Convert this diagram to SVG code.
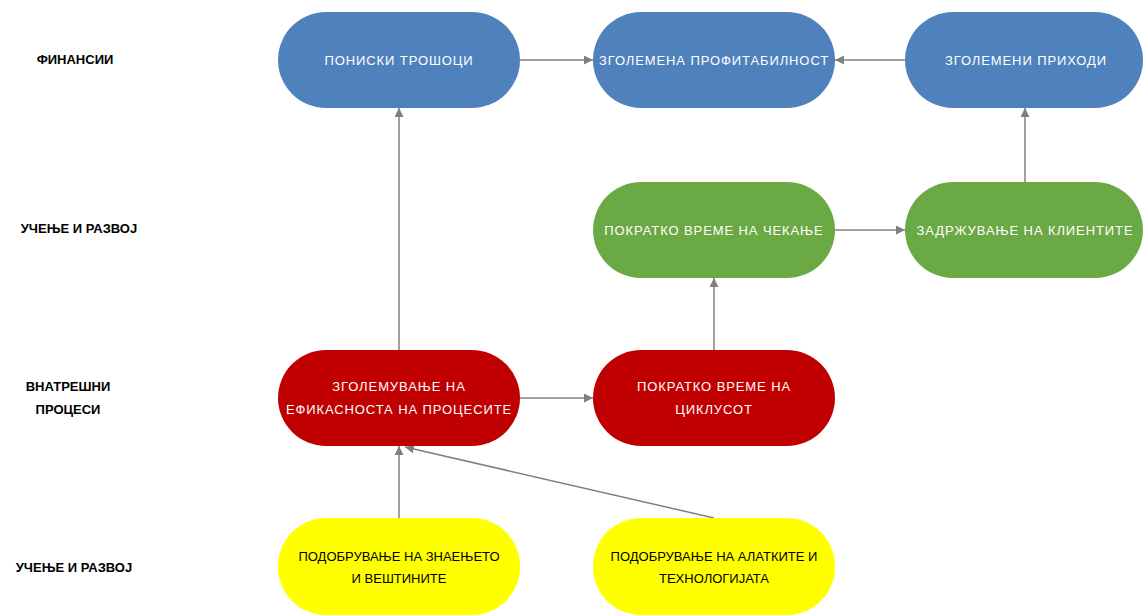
<svg xmlns="http://www.w3.org/2000/svg" width="1143" height="615" viewBox="0 0 1143 615">
<style>
.lbl{font-family:"Liberation Sans",Arial,sans-serif;font-weight:bold;font-size:13px;fill:#000;text-anchor:middle}
.nt{font-family:"Liberation Sans",Arial,sans-serif;font-size:13px;fill:#fff;text-anchor:middle;letter-spacing:0.9px}
.blue{fill:#4f81bd}
.green{fill:#6aa944}
.red{fill:#c00000}
.yellow{fill:#ffff00}
.nty{font-family:"Liberation Sans",Arial,sans-serif;font-size:13px;fill:#000;text-anchor:middle}
.cn{stroke:#808080;stroke-width:1.5;fill:none;marker-end:url(#ah)}
</style>
<defs>
<marker id="ah" viewBox="0 0 10 10" refX="10" refY="5" markerWidth="9" markerHeight="9" orient="auto" markerUnits="userSpaceOnUse">
<path d="M0,0 L10,5 L0,10 Z" fill="#808080"/>
</marker>
</defs>
<rect width="1143" height="615" fill="#fff"/>
<g id="labels">
<text class="lbl" x="75" y="64">ФИНАНСИИ</text>
<text class="lbl" x="79" y="233">УЧЕЊЕ И РАЗВОЈ</text>
<text class="lbl" x="68" y="391">ВНАТРЕШНИ</text>
<text class="lbl" x="68" y="414">ПРОЦЕСИ</text>
<text class="lbl" x="74" y="572">УЧЕЊЕ И РАЗВОЈ</text>
</g>
<g id="connectors">
<line class="cn" x1="520" y1="60" x2="593" y2="60"/>
<line class="cn" x1="905" y1="60" x2="835" y2="60"/>
<line class="cn" x1="1025" y1="182" x2="1025" y2="108"/>
<line class="cn" x1="835" y1="230" x2="905" y2="230"/>
<line class="cn" x1="714" y1="350" x2="714" y2="278"/>
<line class="cn" x1="399" y1="350" x2="399" y2="108"/>
<line class="cn" x1="520" y1="398" x2="593" y2="398"/>
<line class="cn" x1="399" y1="518" x2="399" y2="446"/>
<line class="cn" x1="714" y1="518" x2="405" y2="447"/>
</g>
<g id="n-poniski">
<rect class="blue" x="278" y="12" width="242" height="96" rx="48"/>
<text class="nt" x="399" y="65">ПОНИСКИ ТРОШОЦИ</text>
</g>
<g id="n-profitabilnost">
<rect class="blue" x="593" y="12" width="242" height="96" rx="48"/>
<text class="nt" x="714" y="65">ЗГОЛЕМЕНА ПРОФИТАБИЛНОСТ</text>
</g>
<g id="n-prihodi">
<rect class="blue" x="905" y="12" width="238" height="96" rx="48"/>
<text class="nt" x="1026" y="65">ЗГОЛЕМЕНИ ПРИХОДИ</text>
</g>
<g id="n-cekanje">
<rect class="green" x="593" y="182" width="242" height="96" rx="48"/>
<text class="nt" x="714" y="235">ПОКРАТКО ВРЕМЕ НА ЧЕКАЊЕ</text>
</g>
<g id="n-klienti">
<rect class="green" x="905" y="182" width="238" height="96" rx="48"/>
<text class="nt" x="1025" y="235">ЗАДРЖУВАЊЕ НА КЛИЕНТИТЕ</text>
</g>
<g id="n-efikasnost">
<rect class="red" x="278" y="350" width="242" height="96" rx="48"/>
<text class="nt" x="399" y="391">ЗГОЛЕМУВАЊЕ НА</text>
<text class="nt" x="399" y="414">ЕФИКАСНОСТА НА ПРОЦЕСИТЕ</text>
</g>
<g id="n-ciklus">
<rect class="red" x="593" y="350" width="242" height="96" rx="48"/>
<text class="nt" x="714" y="391">ПОКРАТКО ВРЕМЕ НА</text>
<text class="nt" x="714" y="414">ЦИКЛУСОТ</text>
</g>
<g id="n-znaenje">
<rect class="yellow" x="278" y="518" width="242" height="97" rx="48"/>
<text class="nty" x="399" y="561">ПОДОБРУВАЊЕ НА ЗНАЕЊЕТО</text>
<text class="nty" x="399" y="583">И ВЕШТИНИТЕ</text>
</g>
<g id="n-alatki">
<rect class="yellow" x="593" y="518" width="242" height="97" rx="48"/>
<text class="nty" x="714" y="561">ПОДОБРУВАЊЕ НА АЛАТКИТЕ И</text>
<text class="nty" x="714" y="583">ТЕХНОЛОГИЈАТА</text>
</g>
</svg>
